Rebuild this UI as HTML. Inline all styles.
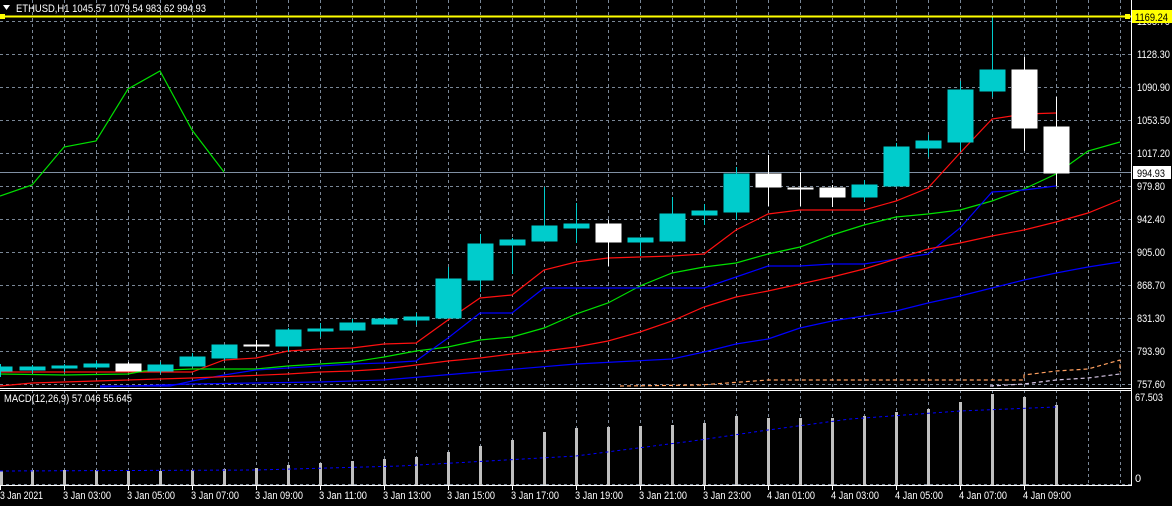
<!DOCTYPE html>
<html><head><meta charset="utf-8"><style>
html,body{margin:0;padding:0;background:#000;}
svg{display:block;font-family:"Liberation Sans",sans-serif;}
</style></head><body>
<svg width="1172" height="506" viewBox="0 0 1172 506" xmlns="http://www.w3.org/2000/svg">
<rect width="1172" height="506" fill="#000"/>
<g stroke="#7a8797" stroke-width="1" stroke-dasharray="3,3" fill="none">
<path d="M32.5 0V485M64.5 0V485M96.5 0V485M128.5 0V485M160.5 0V485M192.5 0V485M224.5 0V485M256.5 0V485M288.5 0V485M320.5 0V485M352.5 0V485M384.5 0V485M416.5 0V485M448.5 0V485M480.5 0V485M512.5 0V485M544.5 0V485M576.5 0V485M608.5 0V485M640.5 0V485M672.5 0V485M704.5 0V485M736.5 0V485M768.5 0V485M800.5 0V485M832.5 0V485M864.5 0V485M896.5 0V485M928.5 0V485M960.5 0V485M992.5 0V485M1024.5 0V485M1056.5 0V485M1088.5 0V485M1120.5 0V485"/>
<path d="M0 21.5H1131M0 54.5H1131M0 87.5H1131M0 120.5H1131M0 153.5H1131M0 186.5H1131M0 219.5H1131M0 252.5H1131M0 285.5H1131M0 318.5H1131M0 351.5H1131M0 384.5H1131M0 484.5H1131"/>
</g>
<line x1="0" y1="172.5" x2="1131" y2="172.5" stroke="#8090a4" stroke-width="1"/>
<g fill="none" stroke-width="1.2">
<polyline stroke="#00e000" points="0,196 32,185 64,147 96,141 128,89 160,71 192,130 224,172"/>
<polyline stroke="#ff1010" points="0,372 192,372 224,360 256,358 288,351 320,349 352,348 384,344 416,343 448,320 480,298 512,295 544,270 576,262 608,258 640,257 672,256 704,254 736,230 768,214 800,210 864,210 896,201 928,188 960,153 992,119 1024,114 1056,113"/>
<polyline stroke="#00e000" points="0,374 64,375 128,374 144,371 192,369 256,369 288,366 320,364 352,362 384,357 416,351 448,347 480,340 512,337 544,328 576,314 608,303 640,286 672,273 704,267 736,263 768,254 800,247 832,235 864,225 896,217 928,214 960,210 992,201 1024,189 1056,174 1088,151 1120,142"/>
<polyline stroke="#0000ff" points="100,386 170,386 192,381 224,375 256,370 288,368 320,366 352,364 384,363 416,361 448,338 480,313 512,313 544,288 704,288 736,277 768,266 800,266 832,264 864,264 896,259 928,254 960,228 992,192 1024,190 1056,186"/>
<polyline stroke="#ff1010" points="0,386 32,383 96,381 192,378 288,374 320,372 352,371 384,369 416,365 448,361 480,358 512,354 544,351 576,347 608,341 640,332 672,321 704,307 736,297 768,291 800,284 832,277 864,269 896,259 928,249 960,243 992,236 1024,230 1056,222 1088,213 1120,200"/>
<polyline stroke="#0000ff" points="100,387 192,384 320,382 384,380 480,372 576,364 672,359 704,352 736,344 768,339 800,328 832,321 864,316 896,311 928,303 960,296 992,288 1024,280 1056,273 1088,267 1120,262"/>
<polyline stroke="#ffa060" stroke-dasharray="4,3" points="620,386 700,385 768,380 1024,380 1024,375 1056,371 1088,369 1120,360 1120,372"/>
<polyline stroke="#d8c8e8" stroke-dasharray="4,3" points="990,386 1024,384 1056,380 1088,378 1120,374"/>
</g>
<g stroke-width="1">
<g stroke="#00cccc" fill="#00cccc">
<line x1="0.5" y1="364" x2="0.5" y2="377"/><rect x="-12" y="367" width="24" height="4"/>
<line x1="32.5" y1="365" x2="32.5" y2="373"/><rect x="20" y="367" width="25" height="3"/>
<line x1="64.5" y1="364" x2="64.5" y2="372"/><rect x="52" y="366" width="25" height="2"/>
<line x1="96.5" y1="361" x2="96.5" y2="369"/><rect x="84" y="364" width="25" height="3"/>
<line x1="160.5" y1="362" x2="160.5" y2="373"/><rect x="148" y="365" width="25" height="6"/>
<line x1="192.5" y1="353" x2="192.5" y2="366"/><rect x="180" y="357" width="25" height="9"/>
<line x1="224.5" y1="345" x2="224.5" y2="360"/><rect x="212" y="345" width="25" height="13"/>
<line x1="288.5" y1="328" x2="288.5" y2="352"/><rect x="276" y="330" width="25" height="16"/>
<line x1="320.5" y1="323" x2="320.5" y2="337"/><rect x="308" y="329" width="25" height="2"/>
<line x1="352.5" y1="319" x2="352.5" y2="332"/><rect x="340" y="323" width="25" height="7"/>
<line x1="384.5" y1="317" x2="384.5" y2="325"/><rect x="372" y="319" width="25" height="5"/>
<line x1="416.5" y1="313" x2="416.5" y2="325"/><rect x="404" y="317" width="25" height="3"/>
<line x1="448.5" y1="267" x2="448.5" y2="318"/><rect x="436" y="279" width="25" height="39"/>
<line x1="480.5" y1="234" x2="480.5" y2="292"/><rect x="468" y="244" width="25" height="36"/>
<line x1="512.5" y1="238" x2="512.5" y2="274"/><rect x="500" y="240" width="25" height="5"/>
<line x1="544.5" y1="187" x2="544.5" y2="241"/><rect x="532" y="226" width="25" height="15"/>
<line x1="576.5" y1="203" x2="576.5" y2="243"/><rect x="564" y="224" width="25" height="4"/>
<line x1="640.5" y1="238" x2="640.5" y2="256"/><rect x="628" y="238" width="25" height="4"/>
<line x1="672.5" y1="197" x2="672.5" y2="241"/><rect x="660" y="214" width="25" height="27"/>
<line x1="704.5" y1="204" x2="704.5" y2="225"/><rect x="692" y="211" width="25" height="4"/>
<line x1="736.5" y1="167" x2="736.5" y2="220"/><rect x="724" y="174" width="25" height="38"/>
<line x1="864.5" y1="180" x2="864.5" y2="202"/><rect x="852" y="185" width="25" height="12"/>
<line x1="896.5" y1="143" x2="896.5" y2="186"/><rect x="884" y="147" width="25" height="39"/>
<line x1="928.5" y1="135" x2="928.5" y2="157"/><rect x="916" y="141" width="25" height="7"/>
<line x1="960.5" y1="81" x2="960.5" y2="152"/><rect x="948" y="90" width="25" height="52"/>
<line x1="992.5" y1="17" x2="992.5" y2="97"/><rect x="980" y="70" width="25" height="21"/>
</g>
<g stroke="#fff" fill="#fff">
<line x1="128.5" y1="362" x2="128.5" y2="371"/><rect x="116" y="364" width="25" height="7"/>
<line x1="256.5" y1="340" x2="256.5" y2="351"/><rect x="244" y="345" width="25" height="1"/>
<line x1="608.5" y1="220" x2="608.5" y2="266"/><rect x="596" y="224" width="25" height="18"/>
<line x1="768.5" y1="155" x2="768.5" y2="206"/><rect x="756" y="174" width="25" height="13"/>
<line x1="800.5" y1="172" x2="800.5" y2="206"/><rect x="788" y="188" width="25" height="1"/>
<line x1="832.5" y1="185" x2="832.5" y2="207"/><rect x="820" y="188" width="25" height="9"/>
<line x1="1024.5" y1="57" x2="1024.5" y2="151"/><rect x="1012" y="70" width="25" height="58"/>
<line x1="1056.5" y1="97" x2="1056.5" y2="186"/><rect x="1044" y="127" width="25" height="46"/>
</g>
</g>
<line x1="0" y1="16.5" x2="1131" y2="16.5" stroke="#ffff00" stroke-width="2"/>
<rect x="0" y="14" width="5" height="5" fill="#ffff00"/>
<rect x="1125" y="14" width="5" height="5" fill="#ffff00"/>
<polygon points="3,5 10,5 6.5,10" fill="#fff"/>
<text x="16" y="12" font-size="11" fill="#fff" textLength="190" lengthAdjust="spacingAndGlyphs">ETHUSD,H1  1045.57 1079.54 983.62 994.93</text>
<line x1="0" y1="388.5" x2="1131" y2="388.5" stroke="#fff"/>
<line x1="0" y1="390.5" x2="1131" y2="390.5" stroke="#fff"/>
<line x1="0" y1="485.5" x2="1131" y2="485.5" stroke="#fff"/>
<line x1="1131.5" y1="0" x2="1131.5" y2="486" stroke="#fff"/>
<g font-size="11" fill="#fff" lengthAdjust="spacingAndGlyphs">
<text x="1137" y="25" textLength="33" lengthAdjust="spacingAndGlyphs">1165.70</text>
<text x="1137" y="58" textLength="33" lengthAdjust="spacingAndGlyphs">1128.30</text>
<text x="1137" y="91" textLength="33" lengthAdjust="spacingAndGlyphs">1090.90</text>
<text x="1137" y="124" textLength="33" lengthAdjust="spacingAndGlyphs">1053.50</text>
<text x="1137" y="157" textLength="33" lengthAdjust="spacingAndGlyphs">1017.20</text>
<text x="1137" y="190" textLength="28" lengthAdjust="spacingAndGlyphs">979.80</text>
<text x="1137" y="223" textLength="28" lengthAdjust="spacingAndGlyphs">942.40</text>
<text x="1137" y="256" textLength="28" lengthAdjust="spacingAndGlyphs">905.00</text>
<text x="1137" y="289" textLength="28" lengthAdjust="spacingAndGlyphs">868.70</text>
<text x="1137" y="322" textLength="28" lengthAdjust="spacingAndGlyphs">831.30</text>
<text x="1137" y="355" textLength="28" lengthAdjust="spacingAndGlyphs">793.90</text>
<text x="1137" y="388" textLength="28" lengthAdjust="spacingAndGlyphs">757.60</text>
<text x="1135" y="401" textLength="28" lengthAdjust="spacingAndGlyphs">67.503</text>
<text x="1135" y="482">0</text>
</g>
<rect x="1132" y="10" width="40" height="13" fill="#ffff00"/>
<text x="1135" y="21" font-size="11" fill="#000" textLength="33" lengthAdjust="spacingAndGlyphs">1169.24</text>
<rect x="1133" y="166" width="38" height="13" fill="#fff"/>
<text x="1137" y="177" font-size="11" fill="#000" textLength="28" lengthAdjust="spacingAndGlyphs">994.93</text>
<text x="4" y="402" font-size="11" fill="#fff" textLength="128" lengthAdjust="spacingAndGlyphs">MACD(12,26,9) 57.046 55.645</text>
<g fill="#c0c0c0">
<rect x="0" y="471" width="3" height="14"/><rect x="31" y="470" width="3" height="15"/><rect x="63" y="470" width="3" height="15"/><rect x="95" y="470" width="3" height="15"/><rect x="127" y="471" width="3" height="14"/><rect x="159" y="471" width="3" height="14"/><rect x="191" y="470" width="3" height="15"/><rect x="223" y="469" width="3" height="16"/><rect x="255" y="468" width="3" height="17"/><rect x="287" y="465" width="3" height="20"/><rect x="319" y="463" width="3" height="22"/><rect x="351" y="461" width="3" height="24"/><rect x="383" y="459" width="3" height="26"/><rect x="415" y="457" width="3" height="28"/><rect x="447" y="452" width="3" height="33"/><rect x="479" y="446" width="3" height="39"/><rect x="511" y="440" width="3" height="45"/><rect x="543" y="432" width="3" height="53"/><rect x="575" y="428" width="3" height="57"/><rect x="607" y="427" width="3" height="58"/><rect x="639" y="426" width="3" height="59"/><rect x="671" y="425" width="3" height="60"/><rect x="703" y="423" width="3" height="62"/><rect x="735" y="416" width="3" height="69"/><rect x="767" y="418" width="3" height="67"/><rect x="799" y="418" width="3" height="67"/><rect x="831" y="418" width="3" height="67"/><rect x="863" y="416" width="3" height="69"/><rect x="895" y="412" width="3" height="73"/><rect x="927" y="409" width="3" height="76"/><rect x="959" y="402" width="3" height="83"/><rect x="991" y="394" width="3" height="91"/><rect x="1023" y="397" width="3" height="88"/><rect x="1055" y="405" width="3" height="80"/>
</g>
<polyline fill="none" stroke="#0000ff" stroke-width="1" stroke-dasharray="3,3" points="0,471 256,470 400,466 576,456 700,440 768,430 850,419 960,411 1056,407"/>
<g stroke="#fff"><path d="M0.5 485V490M64.5 485V490M128.5 485V490M192.5 485V490M256.5 485V490M320.5 485V490M384.5 485V490M448.5 485V490M512.5 485V490M576.5 485V490M640.5 485V490M704.5 485V490M768.5 485V490M832.5 485V490M896.5 485V490M960.5 485V490M1024.5 485V490"/></g>
<g font-size="11" fill="#fff">
<text x="0" y="499" textLength="43" lengthAdjust="spacingAndGlyphs">3 Jan 2021</text>
<text x="63" y="499" textLength="48" lengthAdjust="spacingAndGlyphs">3 Jan 03:00</text>
<text x="127" y="499" textLength="48" lengthAdjust="spacingAndGlyphs">3 Jan 05:00</text>
<text x="191" y="499" textLength="48" lengthAdjust="spacingAndGlyphs">3 Jan 07:00</text>
<text x="255" y="499" textLength="48" lengthAdjust="spacingAndGlyphs">3 Jan 09:00</text>
<text x="319" y="499" textLength="48" lengthAdjust="spacingAndGlyphs">3 Jan 11:00</text>
<text x="383" y="499" textLength="48" lengthAdjust="spacingAndGlyphs">3 Jan 13:00</text>
<text x="447" y="499" textLength="48" lengthAdjust="spacingAndGlyphs">3 Jan 15:00</text>
<text x="511" y="499" textLength="48" lengthAdjust="spacingAndGlyphs">3 Jan 17:00</text>
<text x="575" y="499" textLength="48" lengthAdjust="spacingAndGlyphs">3 Jan 19:00</text>
<text x="639" y="499" textLength="48" lengthAdjust="spacingAndGlyphs">3 Jan 21:00</text>
<text x="703" y="499" textLength="48" lengthAdjust="spacingAndGlyphs">3 Jan 23:00</text>
<text x="767" y="499" textLength="48" lengthAdjust="spacingAndGlyphs">4 Jan 01:00</text>
<text x="831" y="499" textLength="48" lengthAdjust="spacingAndGlyphs">4 Jan 03:00</text>
<text x="895" y="499" textLength="48" lengthAdjust="spacingAndGlyphs">4 Jan 05:00</text>
<text x="959" y="499" textLength="48" lengthAdjust="spacingAndGlyphs">4 Jan 07:00</text>
<text x="1023" y="499" textLength="48" lengthAdjust="spacingAndGlyphs">4 Jan 09:00</text>
</g>
</svg>
</body></html>
